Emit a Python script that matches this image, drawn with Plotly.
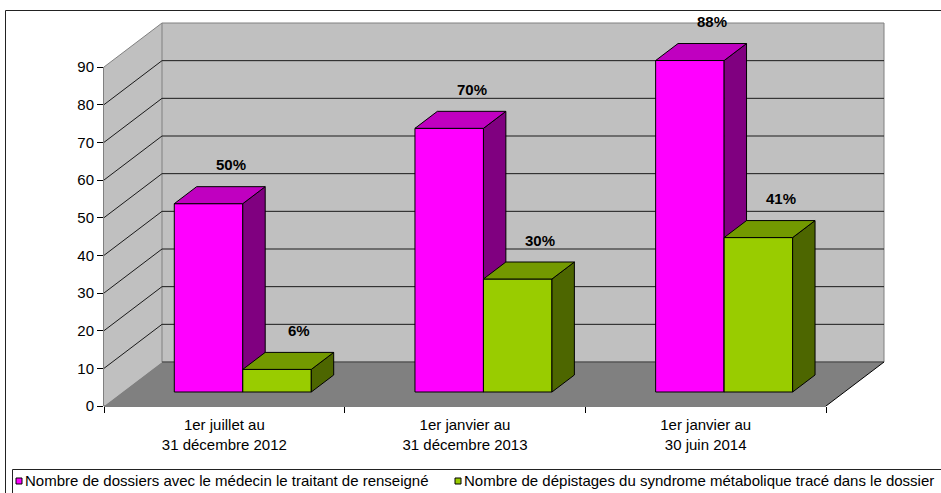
import plotly.graph_objects as go

# ---------------- data ----------------
categories = ["1er juillet au<br>31 décembre 2012",
              "1er janvier au<br>31 décembre 2013",
              "1er janvier au<br>30 juin 2014"]
series_names = ["Nombre de dossiers avec le médecin le traitant de renseigné",
                "Nombre de dépistages du syndrome métabolique tracé dans le dossier"]
medecin_renseigne = [50, 70, 88]
depistage_trace = [6, 30, 41]
y_ticks = [0, 10, 20, 30, 40, 50, 60, 70, 80, 90]

# ---------------- geometry / style ----------------
W, H = 941, 493
PL, PR, PT, PB = 104, 888, 19, 406          # plot area in pixels
PX_X = 240.67                                # px per category
PX_Y = 3.7667                                # px per value unit
X_MAX = (PR - PL) / PX_X
Y_MAX = (PB - PT) / PX_Y
DX = 58 / PX_X                               # full depth, x shift
DY = 44 / PX_Y                               # full depth, y shift
F1, F2 = 14 / 44, 31 / 44                    # bar front / back depth fractions
BW = 68.5 / PX_X                             # bar width
LABEL_GAP = 5.8
N = len(categories)
VMAX = y_ticks[-1]

FONT = "Arial, Liberation Sans, sans-serif"
front_cols = ["#FF00FF", "#99CC00"]
top_cols = ["#C000C0", "#739900"]
side_cols = ["#800080", "#4D6600"]


def pxx(px):
    return (px - PL) / (PR - PL)


def pxy(py):
    return (PB - py) / (PB - PT)


fig = go.Figure()
shapes = []
annotations = []

# walls & floor
shapes.append(dict(type="path", xref="x", yref="y", layer="below",
                   path=f"M0,0 L0,{VMAX} L{DX},{VMAX + DY} L{DX},{DY} Z",
                   fillcolor="#C0C0C0", line=dict(width=0)))
shapes.append(dict(type="rect", xref="x", yref="y", layer="below",
                   x0=DX, y0=DY, x1=N + DX, y1=VMAX + DY,
                   fillcolor="#C0C0C0", line=dict(color="#808080", width=1)))
shapes.append(dict(type="path", xref="x", yref="y", layer="below",
                   path=f"M0,0 L{N},0 L{N + DX},{DY} L{DX},{DY} Z",
                   fillcolor="#808080", line=dict(width=0)))
# gridlines on back wall and left wall
for v in y_ticks[1:-1]:
    shapes.append(dict(type="line", xref="x", yref="y", layer="below",
                       x0=DX, y0=v + DY, x1=N + DX, y1=v + DY,
                       line=dict(color="#1a1a1a", width=1)))
    shapes.append(dict(type="line", xref="x", yref="y", layer="below",
                       x0=0, y0=v, x1=DX, y1=v + DY,
                       line=dict(color="#1a1a1a", width=1)))
shapes.append(dict(type="line", xref="x", yref="y", layer="below",
                   x0=0, y0=VMAX, x1=DX, y1=VMAX + DY,
                   line=dict(color="#808080", width=1)))
shapes.append(dict(type="line", xref="x", yref="y", layer="below",
                   x0=DX, y0=DY, x1=N + DX, y1=DY,
                   line=dict(color="#404040", width=1)))
# floor edges and value axis line
shapes.append(dict(type="line", xref="x", yref="paper", layer="below",
                   x0=0, y0=0, x1=N, y1=0, line=dict(color="#000000", width=1)))
shapes.append(dict(type="line", xref="x", yref="y", layer="below",
                   x0=N, y0=0, x1=N + DX, y1=DY, line=dict(color="#000000", width=1)))
shapes.append(dict(type="line", xref="paper", yref="y", layer="below",
                   x0=0, y0=0, x1=0, y1=VMAX, line=dict(color="#000000", width=1)))

# bars
series = [medecin_renseigne, depistage_trace]
ddx = (F2 - F1) * DX
ddy = (F2 - F1) * DY
base = F1 * DY
for i in range(N):
    for s, vals in enumerate(series):
        v = vals[i]
        xl = i + 0.5 - BW + s * BW + F1 * DX
        xr = xl + BW
        t = base + v
        faces = [
            ([xl, xr, xr, xl, xl], [base, base, t, t, base], front_cols[s]),
            ([xr, xr + ddx, xr + ddx, xr, xr], [base, base + ddy, t + ddy, t, base], side_cols[s]),
            ([xl, xr, xr + ddx, xl + ddx, xl], [t, t, t + ddy, t + ddy, t], top_cols[s]),
        ]
        for fx, fy, col in faces:
            fig.add_trace(go.Scatter(x=fx, y=fy, mode="lines", fill="toself",
                                     fillcolor=col, line=dict(color="#000000", width=1),
                                     hoverinfo="skip", showlegend=False,
                                     name=series_names[s]))
        annotations.append(dict(xref="x", yref="y", x=xl + BW / 2 + ddx,
                                y=t + ddy + LABEL_GAP, text=f"<b>{v}%</b>",
                                showarrow=False, yanchor="middle",
                                font=dict(family=FONT, size=15, color="#000000")))

# outer border and legend box
shapes.append(dict(type="line", xref="paper", yref="paper",
                   x0=pxx(5.5), y0=pxy(10.5), x1=pxx(950), y1=pxy(10.5),
                   line=dict(color="#222222", width=1)))
shapes.append(dict(type="line", xref="paper", yref="paper",
                   x0=pxx(5.5), y0=pxy(10.5), x1=pxx(5.5), y1=pxy(500),
                   line=dict(color="#222222", width=1)))
shapes.append(dict(type="line", xref="paper", yref="paper",
                   x0=pxx(12.5), y0=pxy(469.5), x1=pxx(950), y1=pxy(469.5),
                   line=dict(color="#222222", width=1)))
shapes.append(dict(type="line", xref="paper", yref="paper",
                   x0=pxx(12.5), y0=pxy(469.5), x1=pxx(12.5), y1=pxy(500),
                   line=dict(color="#222222", width=1)))

# legend (manual, single row)
legend_items = [(16, 23, front_cols[0], series_names[0]),
                (455, 462, front_cols[1], series_names[1])]
for sx, tx, col, name in legend_items:
    shapes.append(dict(type="rect", xref="paper", yref="paper",
                       x0=pxx(sx), y0=pxy(478), x1=pxx(sx + 6), y1=pxy(484),
                       fillcolor=col, line=dict(color="#000000", width=1)))
    annotations.append(dict(xref="paper", yref="paper", x=pxx(tx), y=pxy(481),
                            text=name, showarrow=False, xanchor="left",
                            yanchor="middle",
                            font=dict(family=FONT, size=15, color="#000000")))

fig.update_layout(
    width=W, height=H,
    margin=dict(l=PL, r=W - PR, t=PT, b=H - PB, pad=0),
    paper_bgcolor="#FFFFFF", plot_bgcolor="#FFFFFF",
    showlegend=False,
    shapes=shapes, annotations=annotations,
    font=dict(family=FONT, size=15, color="#000000"),
    xaxis=dict(range=[0, X_MAX], showgrid=False, zeroline=False, showline=False,
               tickvals=[i + 0.5 for i in range(N)], ticktext=categories,
               ticks="", ticklabelstandoff=8,
               tickfont=dict(family=FONT, size=15, color="#000000"),
               minor=dict(ticks="outside", tick0=0, dtick=1, ticklen=6,
                          tickcolor="#000000", showgrid=False),
               fixedrange=True),
    yaxis=dict(range=[0, Y_MAX], showgrid=False, zeroline=False, showline=False,
               tickvals=y_ticks, ticktext=[str(v) for v in y_ticks],
               ticks="outside", ticklen=6, tickcolor="#000000",
               tickfont=dict(family=FONT, size=15, color="#000000"),
               fixedrange=True),
)

fig.write_html("out.html")
